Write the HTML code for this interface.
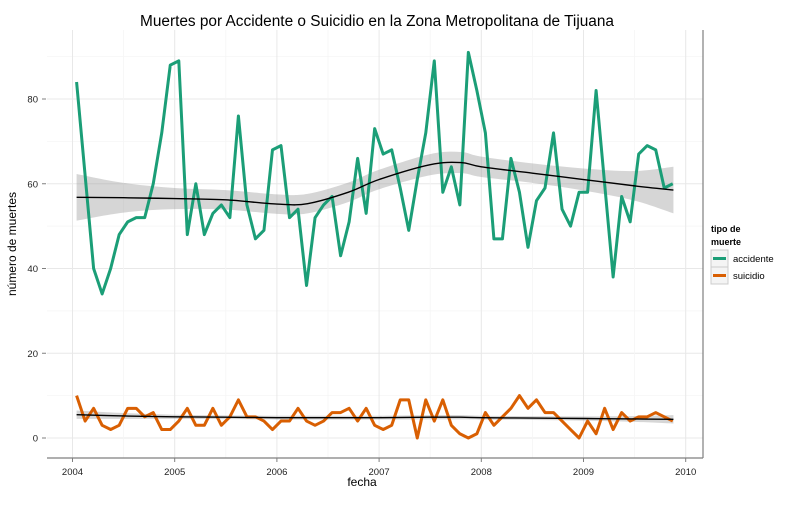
<!DOCTYPE html>
<html><head><meta charset="utf-8"><style>
body{margin:0;background:#fff;font-family:"Liberation Sans",sans-serif}
svg text{font-family:"Liberation Sans",sans-serif}
</style></head><body>
<svg id="chart" width="800" height="500" viewBox="0 0 800 500">
<rect width="800" height="500" fill="#fff"/>
<text x="377" y="26" text-anchor="middle" font-size="15.4" fill="#000">Muertes por Accidente o Suicidio en la Zona Metropolitana de Tijuana</text>
<g id="grid"></g><g id="bands"></g><g id="series"></g><g id="axes"></g>
<text x="362" y="486" text-anchor="middle" font-size="12">fecha</text>
<text transform="translate(16,244) rotate(-90)" text-anchor="middle" font-size="12">número de muertes</text>
<g>
<text x="711" y="232" font-size="9" font-weight="bold">tipo de</text>
<text x="711" y="245" font-size="9" font-weight="bold">muerte</text>
<g><rect x="711" y="250" width="17" height="17" fill="#f4f4f4" stroke="#ccc"/><line x1="713" y1="258.5" x2="726" y2="258.5" stroke="#1b9e77" stroke-width="3"/><text x="733" y="262" font-size="9.5">accidente</text></g>
<g><rect x="711" y="267" width="17" height="17" fill="#f4f4f4" stroke="#ccc"/><line x1="713" y1="275.5" x2="726" y2="275.5" stroke="#d95f02" stroke-width="3"/><text x="733" y="279" font-size="9.5">suicidio</text></g>
</g>
</svg>
<script>
const accidente=[84,62,40,34,40,48,51,52,52,60,72,88,89,48,60,48,53,55,52,76,55,47,49,68,69,52,54,36,52,55,57,43,51,66,53,73,67,68,59,49,61,72,89,58,64,55,91,82,72,47,47,66,58,45,56,59,72,54,50,58,58,82,60,38,57,51,67,69,68,59,60];
const suicidio=[10,4,7,3,2,3,7,7,5,6,2,2,4,7,3,3,7,3,5,9,5,5,4,2,4,4,7,4,3,4,6,6,7,4,7,3,2,3,9,9,0,9,4,9,3,1,0,1,6,3,5,7,10,7,9,6,6,4,2,0,4,1,7,2,6,4,5,5,6,5,4];
const smoothT=[2004.04,2004.5,2005,2005.5,2006,2006.3,2006.7,2007,2007.5,2007.8,2008,2008.5,2009,2009.5,2009.88];
const smoothAcc=[56.8,56.7,56.5,56.2,55.2,55.3,58,61,64.5,65,64,62.5,61,59.5,58.5];
const bandAcc=[5.5,3.5,2.5,2.3,2.3,2.3,2.3,2.3,2.5,2.5,2.4,2.3,2.6,3.5,5.5];
const smoothSui=[5.5,5.2,5,4.9,4.8,4.8,4.8,4.8,4.9,4.9,4.8,4.7,4.6,4.5,4.4];
const bandSui=[1,0.7,0.5,0.45,0.45,0.45,0.45,0.45,0.5,0.5,0.45,0.45,0.5,0.7,1];
const yTicks=[0,20,40,60,80];
const xTicks=[2004,2005,2006,2007,2008,2009,2010];
const NS="http://www.w3.org/2000/svg";
const L=47,R=703,T=30,B=458;
const xs=t=>72.5+(t-2004)*102.2;
const ys=v=>438-v*4.2375;
const tOf=i=>2004.04+i/12;
function mk(tag,attrs,parent){const e=document.createElementNS(NS,tag);for(const k in attrs)e.setAttribute(k,attrs[k]);parent.appendChild(e);return e;}
const grid=document.getElementById('grid'),axes=document.getElementById('axes'),bands=document.getElementById('bands'),series=document.getElementById('series');
for(let v=-10;v<=90;v+=10){const y=ys(v);if(y<T||y>B)continue;const g=mk('line',{x1:L,x2:R,y1:y,y2:y,stroke:v%20===0?'#e8e8e8':'#f5f5f5','stroke-width':v%20===0?1:0.8},grid);

}
for(let t=2003.5;t<=2010;t+=0.5){const x=xs(t);if(x<L||x>R)continue;const g=mk('line',{x1:x,x2:x,y1:T,y2:B,stroke:t%1===0?'#e8e8e8':'#f5f5f5','stroke-width':t%1===0?1:0.8},grid);

}
mk('line',{x1:L,x2:R,y1:B,y2:B,stroke:'#7f7f7f','stroke-width':1.2},axes);
mk('line',{x1:R,x2:R,y1:T,y2:B,stroke:'#7f7f7f','stroke-width':1.2},axes);
yTicks.forEach(v=>{const y=ys(v);mk('line',{x1:42,x2:46,y1:y,y2:y,stroke:'#7f7f7f'},axes);
const tx=mk('text',{x:38,y:y+3.5,'text-anchor':'end','font-size':9.5,fill:'#222'},axes);tx.textContent=v;

});
xTicks.forEach(t=>{const x=xs(t);mk('line',{x1:x,x2:x,y1:B,y2:B+4,stroke:'#7f7f7f'},axes);
const tx=mk('text',{x:x,y:B+17,'text-anchor':'middle','font-size':9.5,fill:'#222'},axes);tx.textContent=t;

});
function spline(pts,start){let d=start?'M'+pts[0][0]+','+pts[0][1]:'L'+pts[0][0]+','+pts[0][1];
for(let i=0;i<pts.length-1;i++){const p0=pts[Math.max(i-1,0)],p1=pts[i],p2=pts[i+1],p3=pts[Math.min(i+2,pts.length-1)];
const c1=[p1[0]+(p2[0]-p0[0])/6,p1[1]+(p2[1]-p0[1])/6],c2=[p2[0]-(p3[0]-p1[0])/6,p2[1]-(p3[1]-p1[1])/6];
d+='C'+c1[0]+','+c1[1]+' '+c2[0]+','+c2[1]+' '+p2[0]+','+p2[1];}return d;}
function drawBand(sm,bd,name){const up=smoothT.map((t,i)=>[xs(t),ys(sm[i]+bd[i])]);
const lo=smoothT.map((t,i)=>[xs(t),ys(sm[i]-bd[i])]).reverse();
const d=spline(up,true)+spline(lo,false)+'Z';
const p=mk('path',{d:d,fill:'#999','fill-opacity':0.4},bands);

}
function drawLine(vals,color,name){const pts=vals.map((v,i)=>xs(tOf(i))+','+ys(v)).join(' ');
const p=mk('polyline',{points:pts,fill:'none',stroke:color,'stroke-width':3,'stroke-linejoin':'round'},series);

}
function drawSmooth(sm,name){const pts=smoothT.map((t,i)=>[xs(t),ys(sm[i])]);
const p=mk('path',{d:spline(pts,true),fill:'none',stroke:'#000','stroke-width':1.4},series);

}
drawBand(smoothAcc,bandAcc,'accidente-confidence-band');
drawBand(smoothSui,bandSui,'suicidio-confidence-band');
drawLine(accidente,'#1b9e77','accidente-line');
drawLine(suicidio,'#d95f02','suicidio-line');
drawSmooth(smoothAcc,'accidente-trend-line');
drawSmooth(smoothSui,'suicidio-trend-line');
</script>
</body></html>
